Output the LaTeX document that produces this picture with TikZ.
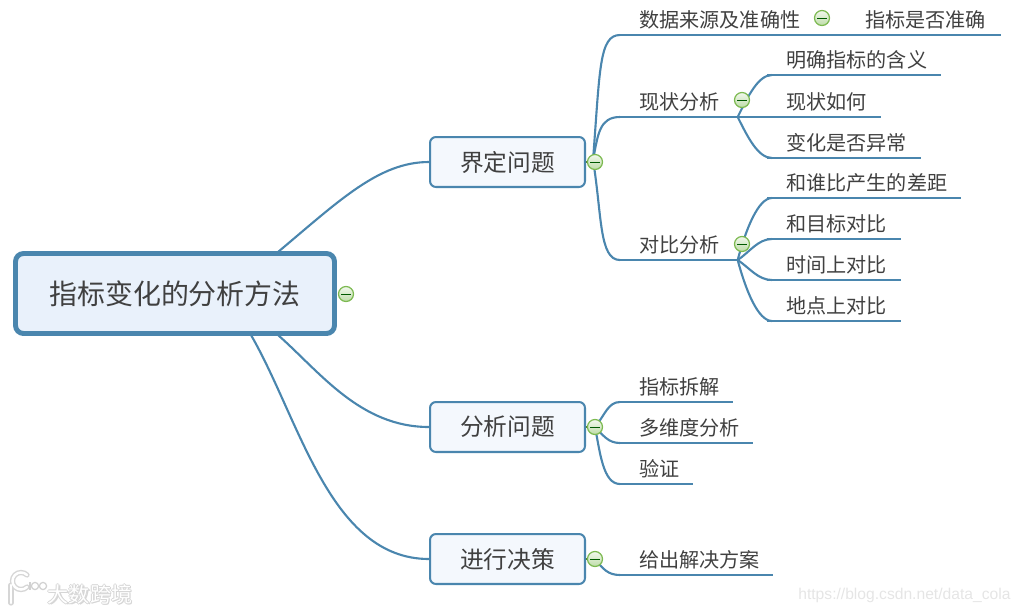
\documentclass[tikz,border=0pt]{standalone}
\usepackage{fontspec}
\setmainfont{Noto Sans CJK SC}
\newfontfamily\urlfont{Liberation Sans}
\usetikzlibrary{positioning, calc}
\definecolor{linkblue}{HTML}{4A86AE}
\definecolor{rootfill}{HTML}{E9F1FB}
\definecolor{topicfill}{HTML}{F4F8FD}
\definecolor{togglegreen}{HTML}{7CB950}
\definecolor{inktext}{HTML}{404040}
\tikzset{
    link/.style={draw=linkblue, line width=1.2pt},
    rootbox/.style={draw=linkblue, line width=2.8pt, fill=rootfill, rounded corners=.16cm,
        minimum width=6.38cm, minimum height=1.6cm, text=inktext, font=\fontsize{15.9}{18}\selectfont},
    topicbox/.style={draw=linkblue, line width=1.15pt, fill=topicfill, rounded corners=.12cm,
        minimum width=3.1cm, minimum height=1cm, text=inktext, font=\fontsize{13.5}{16}\selectfont},
    leaf/.style={anchor=south west, inner xsep=0, inner ysep=0, minimum height=.6cm, align=left,
        text=inktext, font=\fontsize{11.45}{13}\selectfont, execute at begin node={\hspace*{.38cm}}},
    toggle/.style={circle, draw=togglegreen, line width=.7pt, top color=white!90!togglegreen,
        bottom color=white!50!togglegreen, minimum size=.3cm, inner sep=0,
        path picture={\draw[black!65!green, line width=.5pt]
            ([xshift=.05cm]path picture bounding box.west) -- ([xshift=-.05cm]path picture bounding box.east);}},
    mark text/.style={text=white, font=\fontsize{12}{14}\selectfont}
}
\begin{document}
\begin{tikzpicture}[x=.02cm, y=-.02cm]
\useasboundingbox (0,0) rectangle (1021,613);

\node[rootbox] (root) at (175,293.5) {指标变化的分析方法};

\foreach \n/\y/\t in {
    tp1/162/界定问题, tp2/427/分析问题, tp3/559/进行决策}
    \node[topicbox] (\n) at (507.5,\y) {\t};

\foreach \n/\x/\y/\w/\t in {
    a1/620/35/3.96/数据来源及准确性, a2/846/35/3.08/指标是否准确,
    b0/620/117/2.34/现状分析, b1/767/75/3.46/明确指标的含义,
    b2/767/117/2.26/现状如何, b3/767/158/3.06/变化是否异常,
    c0/620/260/2.34/对比分析, c1/767/198/3.86/和谁比产生的差距,
    c2/767/239/2.66/和目标对比, c3/767/280/2.66/时间上对比, c4/767/321/2.66/地点上对比,
    d1/620/402/2.24/指标拆解, d2/620/443/2.64/多维度分析, d3/620/484/1.44/验证,
    e1/620/575/3.04/给出解决方案}
    \node[leaf, text width=\w cm] (\n) at (\x,\y) {\t};

\coordinate (r1) at (278,252);
\coordinate (r2) at (278,335);
\coordinate (r3) at (251,335);
\coordinate (s1) at (593,160);
\coordinate (s2) at (595,427);
\coordinate (s3) at (595,559);

\draw[link] (r1) .. controls +(62,-52) and +(-50,0) .. (tp1.west);
\draw[link] (r2) .. controls +(42,37) and +(-69,0) .. (tp2.west);
\draw[link] (r3) .. controls +(49,85) and +(-99,0) .. (tp3.west);

% underlines
\foreach \n in {a1,a2,b0,b1,b2,b3,c0,c1,c2,c3,c4,d1,d2,d3,e1}
    \draw[link] (\n.south west) -- (\n.south east);
\draw[link] (a1.south east) -- (a2.south west);

\foreach \m/\cx/\cy in {a1/7/-90, b0/5/-25, c0/9/55}
    \draw[link] (s1) .. controls +(\cx,\cy) and +(-21,0) .. (\m.south west);
\foreach \m/\cx/\cy/\bx in {d1/10/-12/-12, d2/8/8/-12, d3/5/25/-17}
    \draw[link] (s2) .. controls +(\cx,\cy) and +(\bx,0) .. (\m.south west);
\draw[link] (s3) .. controls +(8,10) and +(-12,0) .. (e1.south west);

\foreach \m/\cx/\cy in {b1/10/-20, b2/12/0, b3/10/20}
    \draw[link] (b0.south east) .. controls +(\cx,\cy) and +(-14,0) .. ([xshift=.1cm]\m.south west);
\foreach \m/\cx/\cy in {c1/8/-30, c2/12/-8, c3/12/8, c4/8/30}
    \draw[link] (c0.south east) .. controls +(\cx,\cy) and +(-14,0) .. ([xshift=.1cm]\m.south west);

\foreach \n/\x/\y in {
    tg0/346/294, tg1/595/162, tg2/595/427, tg3/595/559,
    tg4/742/100, tg5/742/244, tg6/822/18}
    \node[toggle] (\n) at (\x,\y) {};

\foreach \n/\m in {tp1/tg1, tp2/tg2, tp3/tg3}
    \draw[togglegreen!70!black, line width=.9pt] (\n.east) -- (\m);

% marks in the corners
\foreach \dx/\dy in {-1/0, 1/0, 0/-1, 0/1, 1.5/1.5}
    \node[mark text, text=black!16] at (90+\dx,594+\dy) {大数跨境};
\node[mark text] (wm) at (90,594) {大数跨境};
\draw[black!16, line width=3pt, line cap=round] (11,585) -- (11,603);
\draw[black!16, line width=3pt, line cap=round] (27,587) arc (45:315:8.5);
\draw[white, line width=1.4pt, line cap=round] (11,585) -- (11,603);
\draw[white, line width=1.4pt, line cap=round] (27,587) arc (45:315:8.5);
\foreach \x in {35,43}
    \draw[black!18, line width=.7pt, fill=white] (\x,586) circle (3.6);
\draw[black!18, line width=1pt] (30,582) -- (30,590);
\node[font=\urlfont\fontsize{8.9}{11}\selectfont, text=black!10, anchor=west, inner sep=0] (url) at (798,595)
    {https://blog.csdn.net/data\_cola};
\end{tikzpicture}
\end{document}
